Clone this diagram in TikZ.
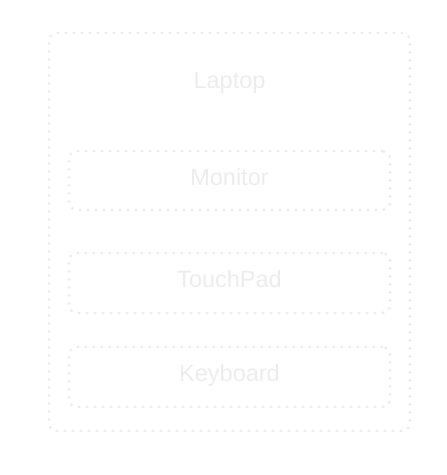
\documentclass[tikz,border=0pt]{standalone}
\usepackage{fontspec}
\setmainfont{Liberation Sans}
\definecolor{faint}{RGB}{236,236,236}
\tikzset{
  dotbox/.style={draw=faint, line width=3.4pt, line cap=round,
    dash pattern=on 0pt off 8pt, rounded corners=8pt},
  faintlabel/.style={text=faint, font=\fontsize{23.5}{28}\selectfont,
    text height=17pt, text depth=7.5pt}
}

\begin{document}
\begin{tikzpicture}[x=1pt,y=-1pt]
            \useasboundingbox (0,0) rectangle (447,475);
            \node[dotbox, minimum width=361pt, minimum height=398pt] (laptop) at (229.5,232) {};
            \node[faintlabel] (laptoplbl) at (229.5,83.5) {Laptop};
            \node[dotbox, minimum width=321pt, minimum height=59pt, faintlabel] (monitor) at (229.5,180.5) {Monitor};
            \node[dotbox, minimum width=321pt, minimum height=60pt, faintlabel] (touchpad) at (229.5,283) {TouchPad};
            \node[dotbox, minimum width=321pt, minimum height=60pt, faintlabel] (keyboard) at (229.5,377) {Keyboard};
        \end{tikzpicture}
\end{document}
